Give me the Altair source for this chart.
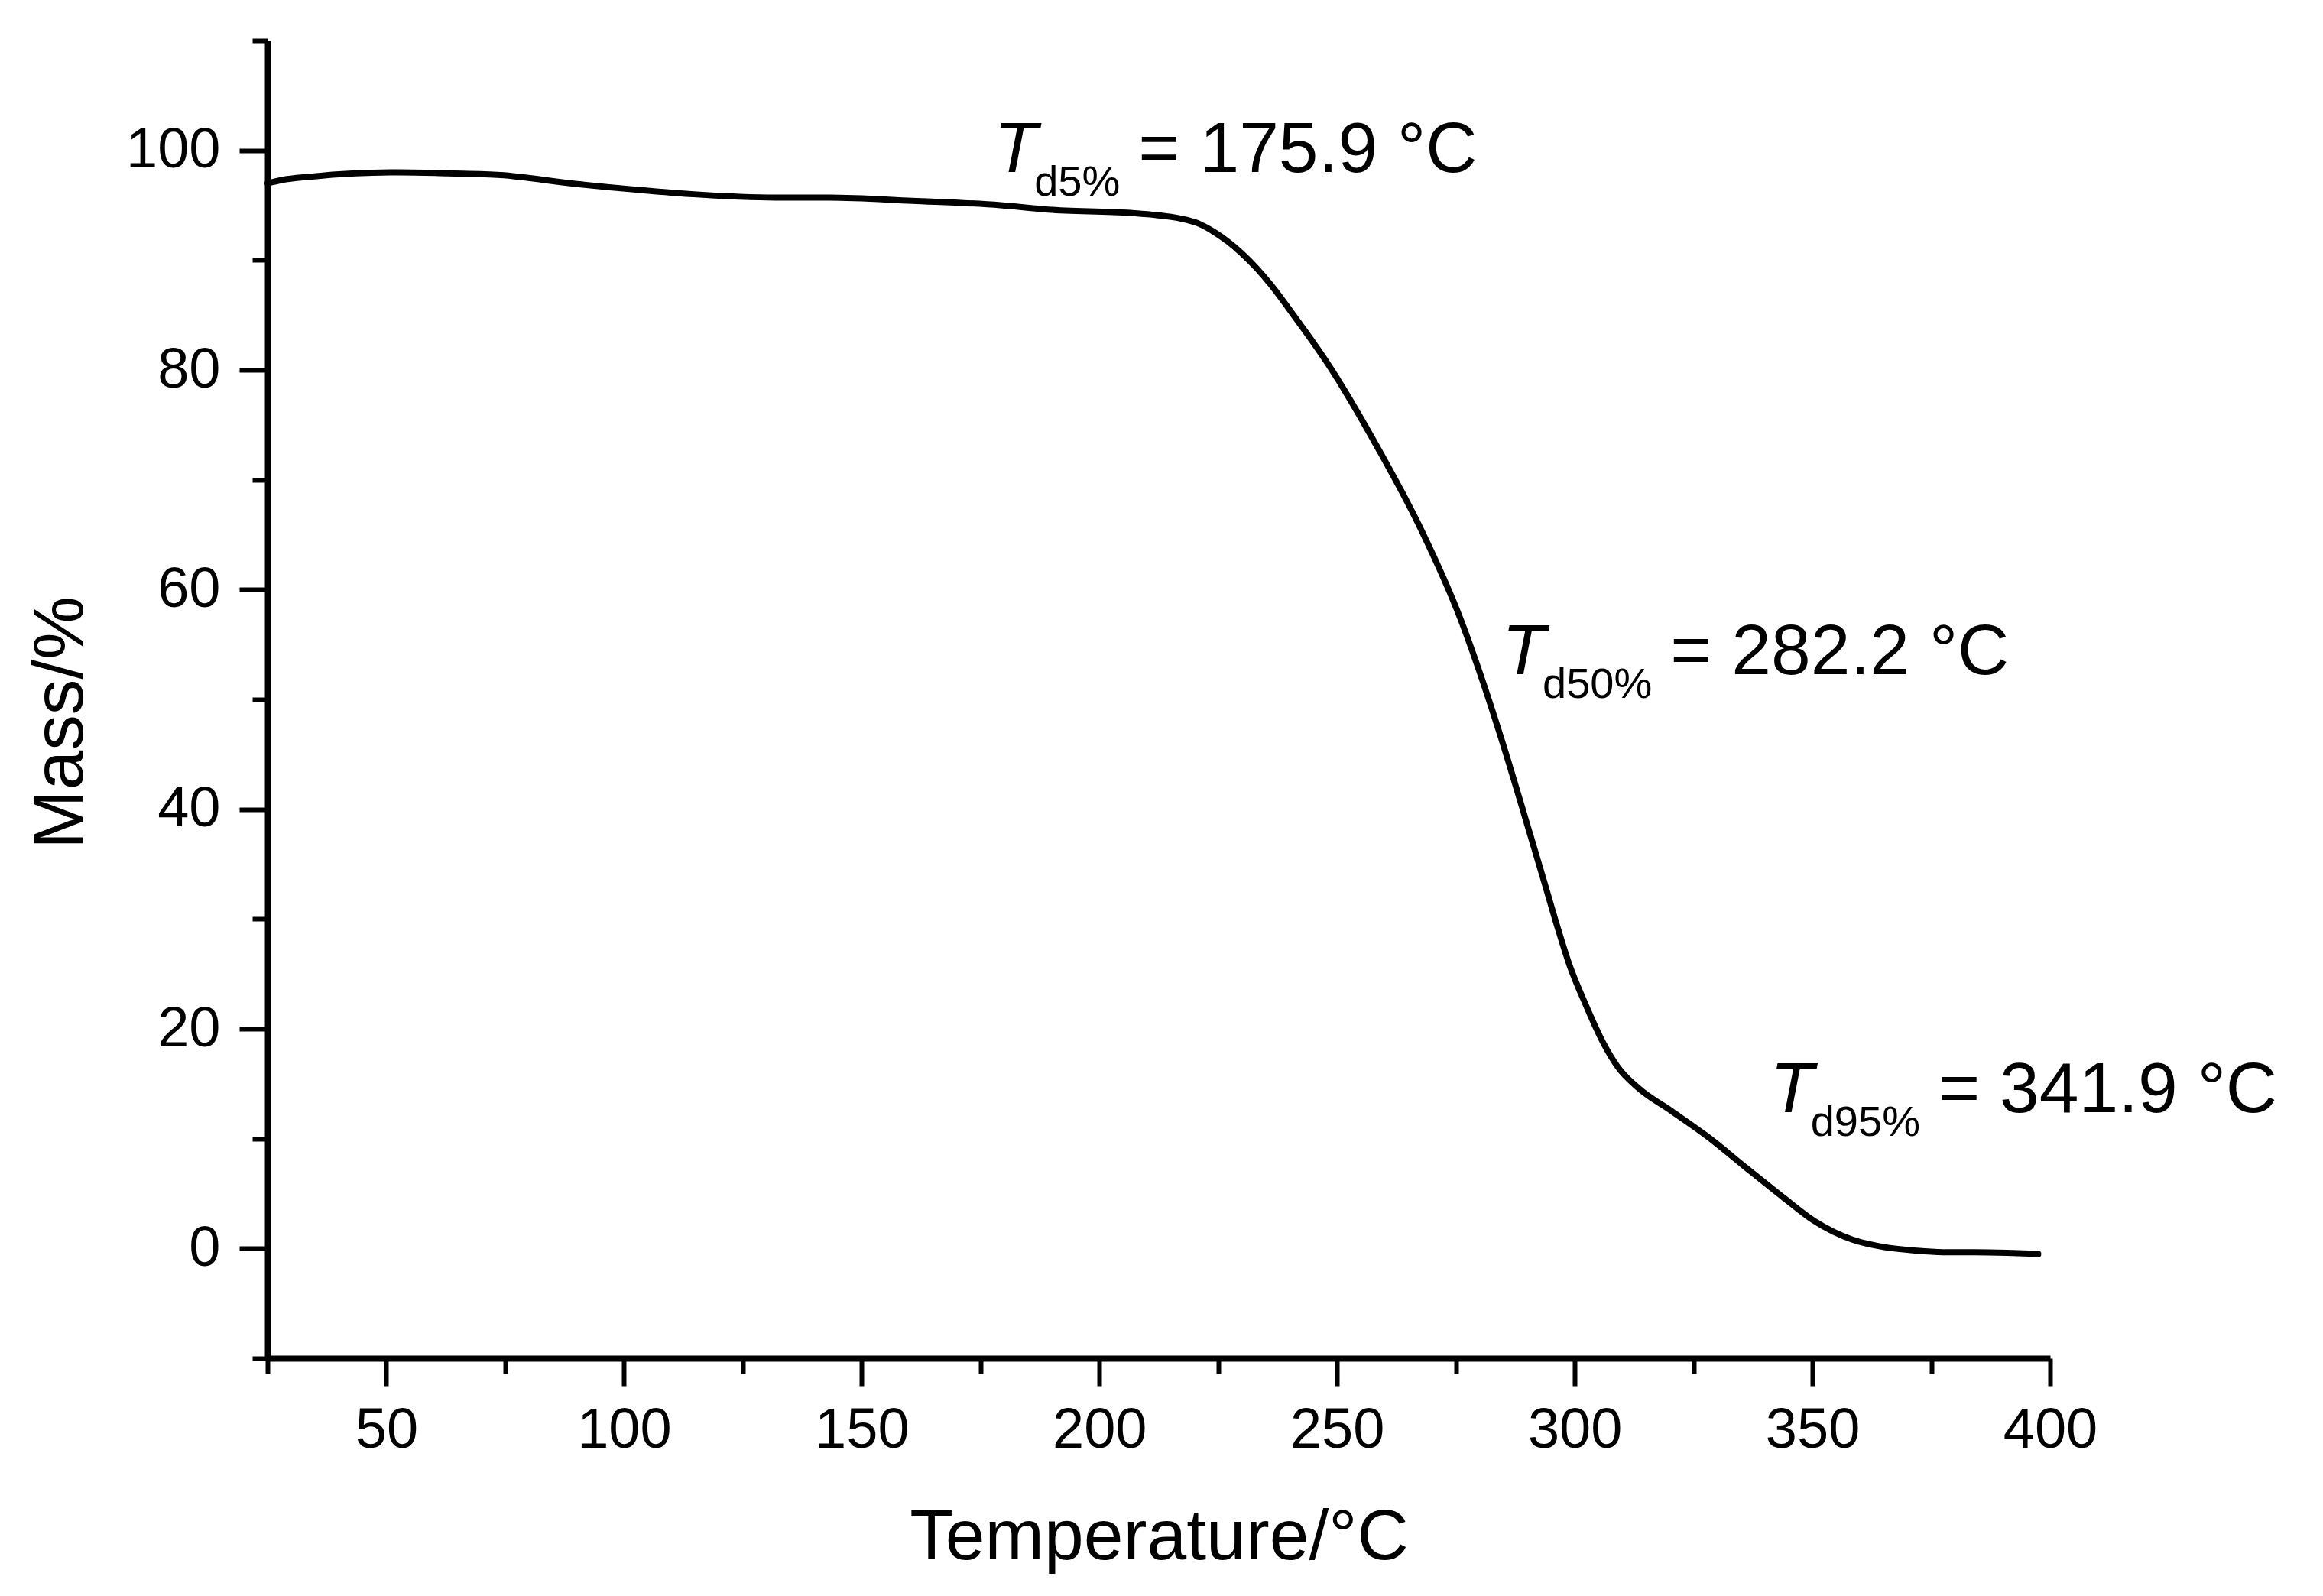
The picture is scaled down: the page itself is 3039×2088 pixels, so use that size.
import altair as alt
import pandas as pd

# ---- data ----
temperature = [25, 28, 34, 43.5, 53, 63, 74, 88.7, 103, 114.6, 131.8, 143.3, 160.6,
               179.2, 189.2, 206.5, 212, 218, 221, 224, 227, 230, 233, 236, 241, 248,
               258.7, 267.3, 275.9, 281.6, 286, 290, 293.5, 296.2, 298.9, 302.1, 305.9,
               309.1, 313.4, 320.4, 327.9, 335.9, 344, 350.4, 358.4, 365.4, 372, 378.8,
               384.1, 391, 397.5]
mass = [97.0, 97.3, 97.6, 97.9, 98.0, 97.9, 97.75, 97.0, 96.4, 96.0, 95.7, 95.7, 95.4,
        95.0, 94.6, 94.3, 94.1, 93.7, 93.3, 92.6, 91.7, 90.6, 89.3, 87.8, 84.9, 80.6,
        72.8, 65.8, 57.4, 50.4, 44.4, 38.6, 33.5, 29.5, 25.8, 22.4, 18.8,
        16.5, 14.6, 12.5, 10.2, 7.4, 4.6, 2.5, 0.8, 0.1, -0.2, -0.35,
        -0.35, -0.4, -0.5]

ann_temp = [177.8, 284.7, 341.1]
ann_mass = [98.0, 52.3, 12.4]
ann_sub = ["d5%", "d50%", "d95%"]
ann_value = ["= 175.9 °C", "= 282.2 °C", "= 341.9 °C"]

x_ticks = list(range(25, 401, 25))
y_ticks = list(range(-10, 111, 10))

FONT = "Liberation Sans"
df = pd.DataFrame({"T": temperature, "M": mass})

x_axis = alt.Axis(
    values=x_ticks, title="Temperature/°C",
    labelExpr="datum.value % 50 === 0 ? datum.label : ''",
    tickSize={"condition": {"test": "datum.value % 50 === 0", "value": 36}, "value": 20},
    tickWidth=6, tickColor="black", domainWidth=8, domainColor="black",
    labelFont=FONT, labelFontSize=74, labelColor="black", labelPadding=22,
    labelBaseline="top", labelFlush=False, labelOverlap=False,
    titleFont=FONT, titleFontSize=93, titleFontWeight="normal", titleColor="black",
    titleY=262, titleBaseline="alphabetic", grid=False,
)
y_axis = alt.Axis(
    values=y_ticks, title="Mass/%",
    labelExpr="datum.value % 20 === 0 ? datum.label : ''",
    tickSize={"condition": {"test": "datum.value % 20 === 0", "value": 37}, "value": 20},
    tickWidth=6, tickColor="black", domainWidth=8, domainColor="black",
    labelFont=FONT, labelFontSize=74, labelColor="black", labelPadding=25,
    labelFlush=False, labelOverlap=False,
    titleFont=FONT, titleFontSize=93, titleFontWeight="normal", titleColor="black",
    titleX=-243, titleY=892, titleAngle=270, titleBaseline="alphabetic", grid=False,
)

xs = alt.Scale(domain=[25, 400], nice=False, zero=False)
ys = alt.Scale(domain=[-10, 110], nice=False, zero=False)

line = alt.Chart(df).mark_line(color="black", strokeWidth=8, interpolate="monotone",
                               strokeCap="round", strokeJoin="round").encode(
    x=alt.X("T:Q", scale=xs, axis=x_axis),
    y=alt.Y("M:Q", scale=ys, axis=y_axis),
)

# Arial advance widths for subscript characters (em units)
W = {"d": 0.556, "5": 0.556, "0": 0.556, "9": 0.556, "%": 0.889}
layers = [line]
for t, m, sub, val in zip(ann_temp, ann_mass, ann_sub, ann_value):
    adf = pd.DataFrame({"T": [t], "M": [m], "sub": [sub], "val": [val]})
    base = alt.Chart(adf).encode(x=alt.X("T:Q", scale=xs), y=alt.Y("M:Q", scale=ys))
    sub_dx = 53
    eq_dx = sub_dx + sum(W[c] for c in sub) * 56 + 24
    layers.append(base.mark_text(text="T", font=FONT, fontSize=93, fontStyle="italic",
                                 align="left", baseline="alphabetic", color="black"))
    layers.append(base.mark_text(font=FONT, fontSize=56, align="left", baseline="alphabetic",
                                 dx=sub_dx, dy=31, color="black").encode(text="sub:N"))
    layers.append(base.mark_text(font=FONT, fontSize=93, align="left", baseline="alphabetic",
                                 dx=eq_dx, color="black").encode(text="val:N"))

chart = alt.layer(*layers).properties(
    width=2332, height=1724,
    autosize=alt.AutoSizeParams(type="none"),
    padding={"left": 342, "top": 45, "right": 310, "bottom": 295},
    background="white",
).configure_view(stroke=None)

chart.save("out.html", embed_options={"renderer": "svg", "actions": False})
